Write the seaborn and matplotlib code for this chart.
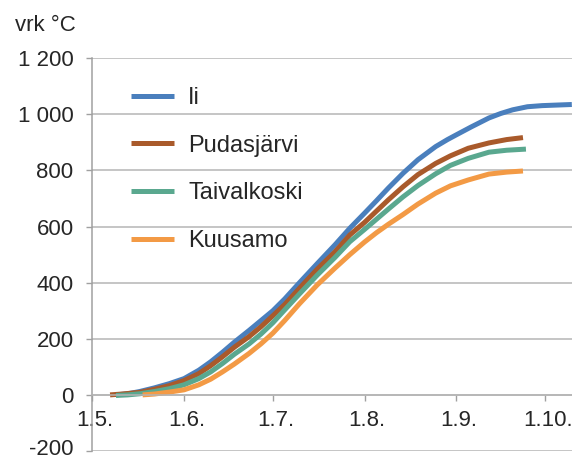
import pandas as pd
import seaborn as sns
import matplotlib.pyplot as plt
from matplotlib.transforms import offset_copy


STATIONS = ["Ii", "Pudasjärvi", "Taivalkoski", "Kuusamo"]
STATION_COLORS = {
    "Ii": "#4a7fbd",
    "Pudasjärvi": "#a95a2b",
    "Taivalkoski": "#5aa88f",
    "Kuusamo": "#f39a45",
}

# days counted from 1.5.
II_DAYS = [8, 12, 16, 21, 26, 31, 36, 40, 44, 48, 53, 57, 61, 65, 70, 76, 82, 87,
           92, 96, 100, 105, 110, 116, 120, 123, 128, 134, 138, 142, 147, 152, 157, 162]
II_VALUES = [0, 4, 12, 25, 40, 58, 88, 118, 152, 188, 230, 265, 300, 342, 400, 468, 535, 594,
             648, 692, 737, 790, 838, 885, 910, 927, 955, 987, 1003, 1016, 1027, 1031, 1033, 1035]

PUDAS_DAYS = [6, 10, 16, 21, 26, 31, 36, 40, 44, 48, 53, 57, 61, 65, 70, 76, 82, 87,
              92, 96, 100, 105, 110, 116, 121, 127, 134, 140, 145.5]
PUDAS_VALUES = [0, 3, 9, 20, 33, 51, 76, 104, 136, 170, 208, 243, 282, 322, 380, 448, 510, 570,
                615, 655, 695, 742, 785, 825, 852, 879, 898, 910, 917]

TAIVAL_DAYS = [8, 12, 16, 21, 26, 31, 36, 40, 44, 48, 53, 57, 61, 65, 70, 76, 82, 87,
               92, 96, 100, 105, 110, 116, 121, 127, 134, 140, 146.5]
TAIVAL_VALUES = [-2, 0, 4, 12, 22, 36, 58, 82, 112, 145, 182, 217, 257, 303, 360, 427, 490, 546,
                 590, 626, 662, 706, 746, 788, 818, 843, 865, 872, 876]

KUUSAMO_DAYS = [17, 21, 26, 31, 36, 40, 44, 48, 53, 57, 61, 65, 70, 76, 82, 87,
                92, 96, 100, 105, 110, 116, 121, 127, 134, 140, 145.5]
KUUSAMO_VALUES = [0, 3, 10, 18, 36, 56, 82, 110, 148, 182, 220, 265, 325, 392, 452, 500,
                  545, 578, 608, 643, 680, 719, 745, 766, 787, 794, 798]

X_TICKS = [0, 31, 61, 92, 123, 153]
X_TICK_LABELS = ["1.5.", "1.6.", "1.7.", "1.8.", "1.9.", "1.10."]
Y_TICKS = [-200, 0, 200, 400, 600, 800, 1000, 1200]
Y_TICK_LABELS = ["-200", "0", "200", "400", "600", "800", "1 000", "1 200"]

GRID_COLOR = "#b5b5b5"
TEXT_COLOR = "#262626"


def build_frame() -> pd.DataFrame:
    parts = [
        ("Ii", II_DAYS, II_VALUES),
        ("Pudasjärvi", PUDAS_DAYS, PUDAS_VALUES),
        ("Taivalkoski", TAIVAL_DAYS, TAIVAL_VALUES),
        ("Kuusamo", KUUSAMO_DAYS, KUUSAMO_VALUES),
    ]
    dfs = [pd.DataFrame({"asema": name, "paiva": days, "vrk": vals}) for name, days, vals in parts]
    return pd.concat(dfs, ignore_index=True)


def main() -> None:
    sns.set_theme(style="white")
    plt.rcParams["font.family"] = ["Liberation Sans", "DejaVu Sans"]
    plt.rcParams["text.color"] = TEXT_COLOR

    df = build_frame()

    fig = plt.figure(figsize=(5.72, 4.59), dpi=100)
    ax = fig.add_axes([92.3 / 572, 1 - 451 / 459, 1 - 92.3 / 572, (451 - 58.2) / 459])

    sns.lineplot(
        data=df,
        x="paiva",
        y="vrk",
        hue="asema",
        hue_order=STATIONS,
        palette=STATION_COLORS,
        estimator=None,
        sort=False,
        linewidth=3.6,
        solid_capstyle="butt",
        ax=ax,
    )

    ax.set_xlim(0, (572 - 92.3) / 2.96)
    ax.set_ylim(-200, 1200)
    ax.set_xticks(X_TICKS)
    ax.set_xticklabels(X_TICK_LABELS)
    ax.set_yticks(Y_TICKS)
    ax.set_yticklabels(Y_TICK_LABELS)
    ax.set_xlabel("")
    ax.set_ylabel("")

    ax.grid(axis="y", color=GRID_COLOR, linewidth=1.1)
    ax.set_axisbelow(True)
    for side in ["top", "right"]:
        ax.spines[side].set_visible(False)
    ax.spines["left"].set_color("#a0a0a0")
    ax.spines["left"].set_linewidth(1.1)
    ax.spines["bottom"].set_position(("data", 0))
    ax.spines["bottom"].set_color(GRID_COLOR)
    ax.spines["bottom"].set_linewidth(1.1)

    ax.tick_params(axis="x", direction="out", length=4.5, width=1.0, color="#a0a0a0",
                   pad=6.5, labelsize=16, labelcolor=TEXT_COLOR, bottom=True)
    ax.tick_params(axis="y", direction="out", length=4.5, width=1.0, color="#a0a0a0",
                   pad=9, labelsize=16, labelcolor=TEXT_COLOR, left=True)

    # date labels sit a touch right of their ticks in the original
    for lab in ax.get_xticklabels():
        lab.set_transform(offset_copy(lab.get_transform(), fig=fig, x=2.5, y=0, units="dots"))
    # lowest label sits right on the bottom edge; lift it a little so it stays inside
    low = ax.get_yticklabels()[0]
    low.set_transform(offset_copy(low.get_transform(), fig=fig, x=0, y=4, units="dots"))

    handles, labels = ax.get_legend_handles_labels()
    for h in handles:
        h.set_linewidth(3.6)
    ax.legend(
        handles, labels,
        loc="upper left",
        bbox_to_anchor=(131 / 572, 1 - 87 / 459),
        bbox_transform=fig.transFigure,
        frameon=False,
        fontsize=17,
        handlelength=1.82,
        handletextpad=0.6,
        labelspacing=1.09,
        borderpad=0,
        borderaxespad=0,
    )

    fig.text(15 / 572, 1 - 25.5 / 459, "vrk °C", ha="left", va="center",
             fontsize=16, color=TEXT_COLOR)

    fig.savefig("out.png", dpi=100)
    plt.close(fig)


if __name__ == "__main__":
    main()
